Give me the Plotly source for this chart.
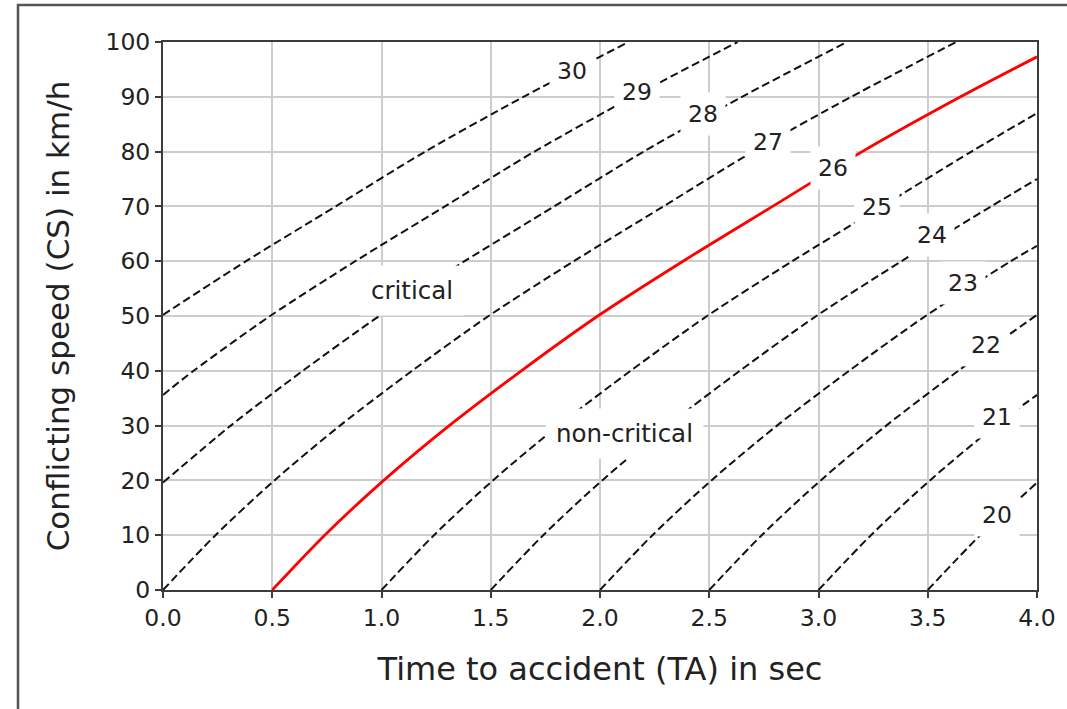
import plotly.graph_objects as go

# ---- data ----
# contour lines: TA (sec) and CS (km/h) points for each severity level
ta_20 = [3.50, 3.74, 4.00]
cs_20 = [0, 10, 19.6]
ta_21 = [3.00, 3.24, 3.51, 3.81, 4.00]
cs_21 = [0, 10, 20, 30, 35.6]
ta_22 = [2.50, 2.74, 3.01, 3.31, 3.64, 4.00]
cs_22 = [0, 10, 20, 30, 40, 50.2]
ta_23 = [2.00, 2.24, 2.51, 2.81, 3.14, 3.49, 3.88, 4.00]
cs_23 = [0, 10, 20, 30, 40, 50, 60, 62.8]
ta_24 = [1.50, 1.74, 2.01, 2.31, 2.64, 2.99, 3.38, 3.79, 4.00]
cs_24 = [0, 10, 20, 30, 40, 50, 60, 70, 75.0]
ta_25 = [1.00, 1.24, 1.51, 1.81, 2.14, 2.49, 2.88, 3.29, 3.70, 4.00]
cs_25 = [0, 10, 20, 30, 40, 50, 60, 70, 80, 87.0]
ta_26 = [0.50, 0.74, 1.01, 1.31, 1.64, 1.99, 2.38, 2.79, 3.20, 3.65, 4.00]
cs_26 = [0, 10, 20, 30, 40, 50, 60, 70, 80, 90, 97.3]
ta_27 = [0.00, 0.24, 0.51, 0.81, 1.14, 1.49, 1.88, 2.29, 2.70, 3.15, 3.63]
cs_27 = [0, 10, 20, 30, 40, 50, 60, 70, 80, 90, 100]
ta_28 = [0.00, 0.31, 0.64, 0.99, 1.38, 1.79, 2.20, 2.65, 3.13]
cs_28 = [19.6, 30, 40, 50, 60, 70, 80, 90, 100]
ta_29 = [0.00, 0.14, 0.49, 0.88, 1.29, 1.70, 2.15, 2.63]
cs_29 = [35.6, 40, 50, 60, 70, 80, 90, 100]
ta_30 = [0.00, 0.38, 0.79, 1.20, 1.65, 2.13]
cs_30 = [50.2, 60, 70, 80, 90, 100]

# inline contour labels
label_values = [20, 21, 22, 23, 24, 25, 26, 27, 28, 29, 30]
label_ta = [3.817, 3.817, 3.767, 3.661, 3.519, 3.268, 3.066, 2.769, 2.471, 2.169, 1.872]
label_cs = [13.7, 31.6, 44.7, 56.0, 64.8, 69.9, 77.0, 81.8, 86.9, 90.8, 94.7]

# region labels
region_text = ["critical", "non-critical"]
region_ta = [1.14, 2.114]
region_cs = [54.6, 28.5]

x_ticks = [0.0, 0.5, 1.0, 1.5, 2.0, 2.5, 3.0, 3.5, 4.0]
y_ticks = [0, 10, 20, 30, 40, 50, 60, 70, 80, 90, 100]

lines = {
    20: (ta_20, cs_20), 21: (ta_21, cs_21), 22: (ta_22, cs_22),
    23: (ta_23, cs_23), 24: (ta_24, cs_24), 25: (ta_25, cs_25),
    26: (ta_26, cs_26), 27: (ta_27, cs_27), 28: (ta_28, cs_28),
    29: (ta_29, cs_29), 30: (ta_30, cs_30),
}

FONT = "DejaVu Sans"
TXT = "#222222"
AX = "#3c3c3c"

fig = go.Figure()
for level, (ta, cs) in lines.items():
    if level == 26:
        line = dict(color="#ff0000", width=2.8, shape="spline", smoothing=0.8)
    else:
        line = dict(color="#111111", width=2.0, dash="8px,4px", shape="spline", smoothing=0.8)
    fig.add_trace(go.Scatter(x=ta, y=cs, mode="lines", line=line,
                             showlegend=False, hoverinfo="skip"))

annotations = []
for v, x, y in zip(label_values, label_ta, label_cs):
    annotations.append(dict(x=x, y=y, xref="x", yref="y", text=str(v), showarrow=False,
                            font=dict(family=FONT, size=23.5, color=TXT),
                            bgcolor="white", borderpad=7))
for t, x, y in zip(region_text, region_ta, region_cs):
    annotations.append(dict(x=x, y=y, xref="x", yref="y", text=t, showarrow=False,
                            font=dict(family=FONT, size=24.5, color=TXT),
                            bgcolor="white", borderpad=10))

axis_common = dict(
    showgrid=True, gridcolor="#cdcdcd", gridwidth=1.5,
    zeroline=False, showline=True, mirror=True, linecolor=AX, linewidth=2,
    ticks="outside", ticklen=6, tickwidth=2, tickcolor=AX,
    tickfont=dict(family=FONT, size=23.5, color=TXT),
)

fig.update_layout(
    width=1067, height=709,
    margin=dict(l=163, r=30, t=42, b=119),
    paper_bgcolor="white", plot_bgcolor="white",
    xaxis=dict(range=[0, 4], tickvals=x_ticks, tickformat=".1f",
               title=dict(text="Time to accident (TA) in sec",
                          font=dict(family=FONT, size=32, color=TXT), standoff=26),
               **axis_common),
    yaxis=dict(range=[0, 100], tickvals=y_ticks,
               title=dict(text="Conflicting speed (CS) in km/h",
                          font=dict(family=FONT, size=31, color=TXT), standoff=27),
               **axis_common),
    annotations=annotations,
    shapes=[dict(type="rect", xref="paper", yref="paper",
                 x0=-0.1659, y0=-0.4, x1=1.2, y1=1.0675,
                 line=dict(color="#555555", width=2.5), layer="below")],
)

fig.write_html("out.html", config={"displayModeBar": False},
               post_script="document.body.style.margin='0';")
